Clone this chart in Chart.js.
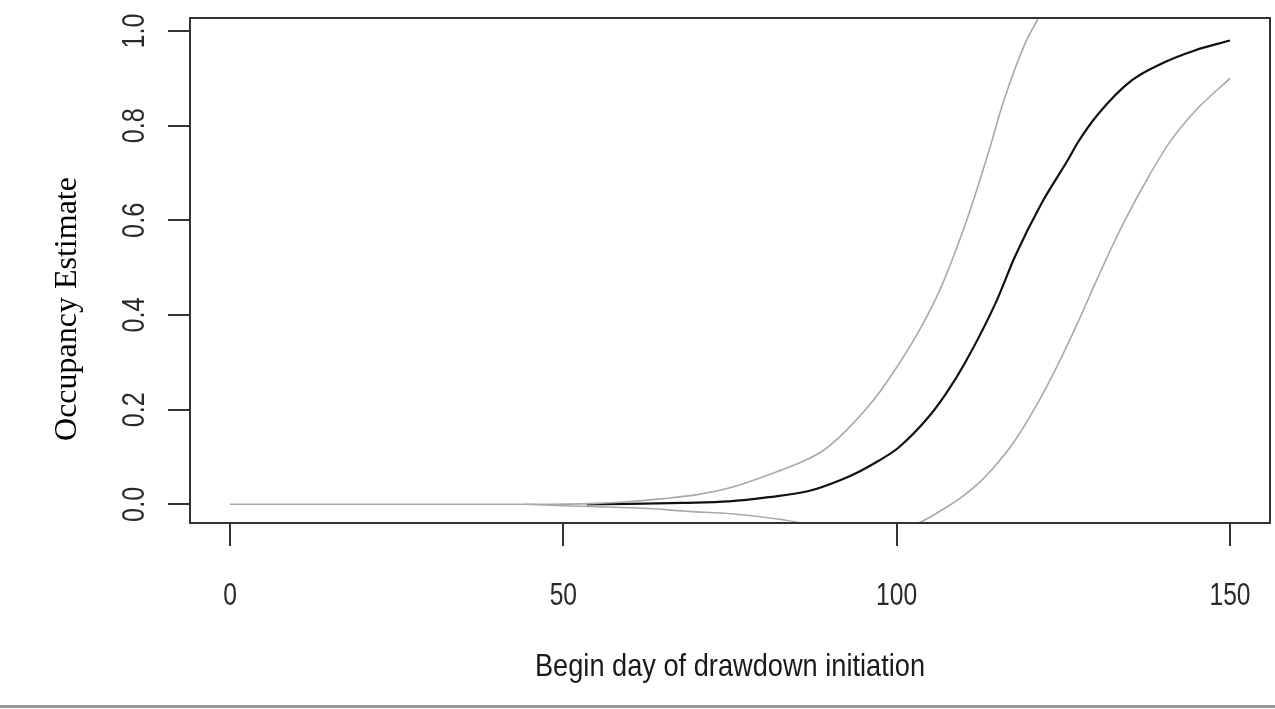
<!DOCTYPE html>
<html>
<head>
<meta charset="utf-8">
<script src="https://cdn.jsdelivr.net/npm/chart.js@4.4.1/dist/chart.umd.min.js"></script>
<style>
  html, body { margin: 0; padding: 0; background: #fff; }
  #wrap { width: 1275px; height: 709px; }
</style>
</head>
<body>
<div id="wrap"><canvas id="occChart" width="1275" height="709"></canvas></div>
<script>
// Occupancy vs begin day of drawdown initiation (mean + upper/lower bounds)

const xTicks = [0, 50, 100, 150];
const yTicks = [0, 0.2, 0.4, 0.6, 0.8, 1.0];

// Mean estimate (black)
const meanDays = [53.5, 60, 68, 74.8, 80.8, 86.8, 91.7, 94.5, 97.3, 100.3, 105, 107.7, 110.3, 114.8, 117.8, 121.7, 125.7, 127.2, 130.2, 135.2, 139.7, 144.7, 150];
const meanEst  = [0.0, 0.001, 0.003, 0.006, 0.015, 0.028, 0.052, 0.07, 0.092, 0.12, 0.188, 0.24, 0.30, 0.424, 0.525, 0.635, 0.728, 0.765, 0.824, 0.895, 0.931, 0.959, 0.98];

// Upper bound (grey)
const upperDays = [0, 45, 55, 60, 65, 70.3, 75, 80.3, 85, 88.7, 92, 96.8, 100.3, 103.5, 106.7, 110.5, 113.7, 116, 119.3, 121.5, 123];
const upperEst  = [0, 0.0, 0.002, 0.006, 0.012, 0.021, 0.035, 0.06, 0.085, 0.111, 0.15, 0.225, 0.296, 0.37, 0.46, 0.60, 0.74, 0.85, 0.975, 1.035, 1.09];

// Lower bound (grey)
const lowerDays = [44.3, 50, 55, 62.8, 68.8, 75.2, 82.7, 88, 95, 100, 103.5, 107.7, 110, 112.7, 115, 117.5, 121.2, 124, 127.2, 130.2, 133.7, 137.7, 140.7, 144.7, 150];
const lowerEst  = [0.0, -0.003, -0.005, -0.009, -0.015, -0.02, -0.032, -0.045, -0.055, -0.052, -0.038, -0.004, 0.018, 0.05, 0.085, 0.13, 0.215, 0.29, 0.385, 0.48, 0.585, 0.69, 0.76, 0.83, 0.9];

const sansFont = "'Liberation Sans', Arial, sans-serif";
const serifFont = "'Liberation Serif', 'Times New Roman', serif";

function toPoints(xs, ys) {
    return xs.map(function(x, i) { return { x: x, y: ys[i] }; });
}

// R draws its text a bit narrow, so squeeze horizontally
function squeezedText(ctx, text, x, y, angle, sx) {
    ctx.save();
    ctx.translate(x, y);
    ctx.rotate(angle);
    ctx.scale(sx, 1);
    ctx.fillText(text, 0, 0);
    ctx.restore();
}

// draws the R style box, labels, titles and page edge
const rStyle = {
    id: 'rStyle',
    afterDraw: function(chart) {
        const ctx = chart.ctx;
        const area = chart.chartArea;
        const xScale = chart.scales.x;
        const yScale = chart.scales.y;
        ctx.save();
        ctx.strokeStyle = '#333';
        ctx.lineWidth = 2;
        ctx.strokeRect(area.left, area.top, area.right - area.left, area.bottom - area.top);

        ctx.fillStyle = '#2a2a2a';
        ctx.font = '32px ' + sansFont;
        ctx.textAlign = 'center';
        ctx.textBaseline = 'middle';
        yTicks.forEach(function(v) {
            squeezedText(ctx, v.toFixed(1), 135, yScale.getPixelForValue(v), -Math.PI / 2, 0.79);
        });
        xTicks.forEach(function(v) {
            squeezedText(ctx, String(v), xScale.getPixelForValue(v), 596, 0, 0.77);
        });

        ctx.fillStyle = '#1a1a1a';
        squeezedText(ctx, 'Begin day of drawdown initiation', (area.left + area.right) / 2, 667, 0, 0.85);

        ctx.fillStyle = '#000';
        ctx.font = '32px ' + serifFont;
        squeezedText(ctx, 'Occupancy Estimate', 68, 309, -Math.PI / 2, 1);

        ctx.fillStyle = '#999';
        ctx.fillRect(0, 705, chart.width, 3);
        ctx.restore();
    }
};

new Chart(document.getElementById('occChart'), {
    type: 'line',
    data: {
        datasets: [
            {
                label: 'Upper',
                data: toPoints(upperDays, upperEst),
                borderColor: '#a9a9a9',
                borderWidth: 1.6,
                pointRadius: 0,
                cubicInterpolationMode: 'monotone',
                clip: 0
            },
            {
                label: 'Lower',
                data: toPoints(lowerDays, lowerEst),
                borderColor: '#a9a9a9',
                borderWidth: 1.6,
                pointRadius: 0,
                cubicInterpolationMode: 'monotone',
                clip: 0
            },
            {
                label: 'Mean',
                data: toPoints(meanDays, meanEst),
                borderColor: '#111',
                borderWidth: 2.2,
                pointRadius: 0,
                cubicInterpolationMode: 'monotone',
                clip: 0
            }
        ]
    },
    options: {
        responsive: false,
        animation: false,
        events: [],
        layout: {
            padding: { top: 18, right: 5, left: 0, bottom: 0 }
        },
        plugins: {
            legend: { display: false },
            tooltip: { enabled: false }
        },
        scales: {
            x: {
                type: 'linear',
                min: -6,
                max: 156,
                afterBuildTicks: function(scale) {
                    scale.ticks = xTicks.map(function(v) { return { value: v }; });
                },
                afterFit: function(scale) {
                    scale.height = 186;
                },
                border: { display: false },
                grid: {
                    drawOnChartArea: false,
                    drawTicks: true,
                    tickLength: 23,
                    lineWidth: 2,
                    color: '#333'
                },
                ticks: { display: false }
            },
            y: {
                type: 'linear',
                min: -0.0395,
                max: 1.0275,
                afterBuildTicks: function(scale) {
                    scale.ticks = yTicks.map(function(v) { return { value: v }; });
                },
                afterFit: function(scale) {
                    scale.width = 190;
                },
                border: { display: false },
                grid: {
                    drawOnChartArea: false,
                    drawTicks: true,
                    tickLength: 22,
                    lineWidth: 2,
                    color: '#333'
                },
                ticks: { display: false }
            }
        }
    },
    plugins: [rStyle]
});
</script>
</body>
</html>
